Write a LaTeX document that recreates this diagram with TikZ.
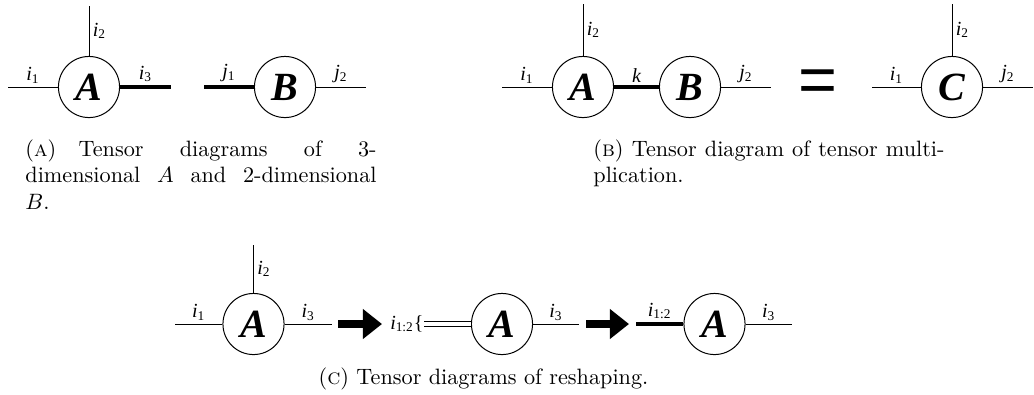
\documentclass[tikz,border=0pt]{standalone}
\usepackage{amsmath,amssymb}
\usepackage{fontspec}
\newfontfamily\diagfont{Liberation Serif}
\newfontfamily\eqfont{Liberation Sans}
\usepackage{tikz}
\usetikzlibrary{arrows.meta}

% 指标标签与张量字母
\newcommand{\idx}[2]{{\diagfont\fontsize{9}{10}\selectfont\itshape #1\textsubscript{\upshape #2}}}
\newcommand{\ten}[1]{{\diagfont\fontsize{18}{20}\selectfont\bfseries\itshape #1}}

\begin{document}
\begin{tikzpicture}[x=0.45pt,y=-0.45pt,
    tensor/.style={circle,draw,line width=0.45pt,minimum size=27.5pt,inner sep=0pt},
    leg/.style={line width=0.45pt},
    fatleg/.style={line width=1.4pt},
    lab/.style={inner sep=1.5pt},
    bigarrow/.style={line width=4pt,-{Triangle[length=8.6pt,width=13pt]}},
    caption/.style={inner sep=0pt,font=\fontsize{10}{12}\selectfont}]

\useasboundingbox (0,0) rectangle (1034,394);

%==================== (a) A 与 B ====================
\node[tensor] (tA) at (89,87) {\ten{A}};
\node[tensor] (tB) at (285,87) {\ten{B}};
\coordinate (a1) at (8,87);
\coordinate (a2) at (89,6);
\coordinate (a3) at (171,87);
\coordinate (b1) at (204,87);
\coordinate (b2) at (366,87);

\draw[leg] (a1) -- (tA) node[midway,above,lab] {\idx{i}{1}};
\draw[leg] (tA) -- (a2) node[midway,right,lab] {\idx{i}{2}};
\draw[fatleg] (tA) -- (a3) node[midway,above,lab] {\idx{i}{3}};
\draw[fatleg] (b1) -- (tB) node[midway,above,lab] {\idx{j}{1}};
\draw[leg] (tB) -- (b2) node[midway,above,lab] {\idx{j}{2}};

\node[caption,anchor=north west,text width=158pt,align=justify] (capA) at (25,139)
  {(\textsc{a})\quad Tensor diagrams of 3-\linebreak dimensional $A$ and 2-dimensional\linebreak $B$.};

%==================== (b) 张量乘法 ====================
\node[tensor] (pA) at (583,87) {\ten{A}};
\node[tensor] (pB) at (690,87) {\ten{B}};
\coordinate (p1) at (502,87);
\coordinate (p2) at (583,4);
\coordinate (p3) at (771,87);

\draw[leg] (p1) -- (pA) node[midway,above,lab] {\idx{i}{1}};
\draw[leg] (pA) -- (p2) node[midway,right,lab] {\idx{i}{2}};
\draw[fatleg] (pA) -- (pB) node[midway,above,lab] {{\diagfont\fontsize{9}{10}\selectfont\itshape k}};
\draw[leg] (pB) -- (p3) node[midway,above,lab] {\idx{j}{2}};

\node[inner sep=0pt] (eq) at (818,86) {\eqfont\fontsize{30}{30}\selectfont =};

\node[tensor] (tC) at (952,87) {\ten{C}};
\coordinate (c1) at (872,87);
\coordinate (c2) at (952,4);
\coordinate (c3) at (1033,87);

\draw[leg] (c1) -- (tC) node[midway,above,lab] {\idx{i}{1}};
\draw[leg] (tC) -- (c2) node[midway,right,lab] {\idx{i}{2}};
\draw[leg] (tC) -- (c3) node[midway,above,lab] {\idx{j}{2}};

\node[caption,anchor=north west,text width=158pt,align=justify] (capB) at (593,139)
  {(\textsc{b}) Tensor diagram of tensor multiplication.};

%==================== (c) 变形 ====================
\node[tensor] (rA) at (253.5,324) {\ten{A}};
\coordinate (r1) at (175,324);
\coordinate (r2) at (253.5,245);
\coordinate (r3) at (332,324);

\draw[leg] (r1) -- (rA) node[midway,above,lab] {\idx{i}{1}};
\draw[leg] (rA) -- (r2) node[midway,right,lab] {\idx{i}{2}};
\draw[leg] (rA) -- (r3) node[midway,above,lab] {\idx{i}{3}};

% 粗箭头
\coordinate (f1) at (338,324);
\coordinate (f2) at (382,324);
\draw[bigarrow] (f1) -- (f2);

\node[tensor] (sA) at (502,324) {\ten{A}};
\node[inner sep=0pt,anchor=east] (brace) at (424,324) {\idx{i}{1:2}{\diagfont\fontsize{9}{10}\selectfont\{}};
\coordinate (s3) at (579,324);

\draw[leg,double,double distance=1.4pt] (brace) -- (sA);
\draw[leg] (sA) -- (s3) node[midway,above,lab] {\idx{i}{3}};

\coordinate (g1) at (586,324);
\coordinate (g2) at (629,324);
\draw[bigarrow] (g1) -- (g2);

\node[tensor] (uA) at (714.5,324) {\ten{A}};
\coordinate (u0) at (636,324);
\coordinate (u3) at (792,324);

\draw[fatleg] (u0) -- (uA) node[midway,above,lab] {\idx{i}{1:2}};
\draw[leg] (uA) -- (u3) node[midway,above,lab] {\idx{i}{3}};

\node[caption,anchor=north] (capC) at (483.5,367)
  {(\textsc{c}) Tensor diagrams of reshaping.};

\end{tikzpicture}
\end{document}
